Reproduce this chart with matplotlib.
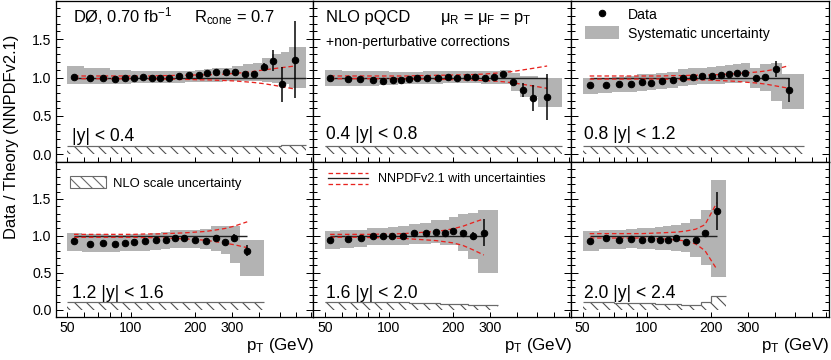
import matplotlib
matplotlib.use('Agg')
import matplotlib.pyplot as plt
from matplotlib.lines import Line2D
from matplotlib.patches import Patch
from matplotlib.legend_handler import HandlerBase
from matplotlib.ticker import FixedLocator, NullFormatter, FixedFormatter
import numpy as np

plt.rcParams['font.family'] = ['Liberation Sans', 'DejaVu Sans']
plt.rcParams['mathtext.fontset'] = 'custom'
plt.rcParams['mathtext.rm'] = 'Liberation Sans'
plt.rcParams['mathtext.it'] = 'Liberation Sans:italic'
plt.rcParams['hatch.color'] = '#505050'
plt.rcParams['hatch.linewidth'] = 1.1

# ---------------- data ----------------
rap_labels = ['|y| < 0.4', '0.4 |y| < 0.8', '0.8 |y| < 1.2',
              '1.2 |y| < 1.6', '1.6 |y| < 2.0', '2.0 |y| < 2.4']

# |y| < 0.4
p1_edges = [50, 60, 70, 80, 90, 100, 110, 120, 130, 145, 160, 180, 200, 220, 240, 270, 300, 335, 375, 415, 460, 505, 555, 665]
p1_pt = [54, 64, 74, 84, 94, 103, 114, 125, 137, 151, 169, 188, 209, 228, 251, 280, 310, 343, 379, 422, 467, 515, 590]
p1_val = [1.01, 1.0, 1.0, 0.985, 0.99, 0.995, 1.01, 1.0, 1.0, 1.0, 1.02, 1.03, 1.035, 1.065, 1.07, 1.07, 1.075, 1.04, 1.045, 1.14, 1.22, 0.91, 1.23]
p1_err = [0.004, 0.004, 0.004, 0.004, 0.004, 0.004, 0.004, 0.004, 0.005, 0.005, 0.005, 0.006, 0.007, 0.008, 0.01, 0.012, 0.015, 0.02, 0.025, 0.05, 0.14, 0.23, 0.5]
p1_sys_lo = [0.92, 0.91, 0.91, 0.92, 0.92, 0.93, 0.93, 0.93, 0.93, 0.93, 0.93, 0.94, 0.94, 0.94, 0.94, 0.95, 0.95, 0.95, 0.95, 0.94, 0.93, 0.92, 0.87]
p1_sys_hi = [1.15, 1.12, 1.12, 1.10, 1.10, 1.09, 1.09, 1.08, 1.08, 1.08, 1.09, 1.09, 1.10, 1.11, 1.12, 1.13, 1.15, 1.17, 1.19, 1.25, 1.30, 1.33, 1.40]
p1_pdf_up = [1.02, 1.02, 1.02, 1.02, 1.02, 1.02, 1.02, 1.02, 1.025, 1.025, 1.03, 1.03, 1.035, 1.035, 1.04, 1.045, 1.055, 1.065, 1.08, 1.10, 1.115, 1.13, 1.15]
p1_pdf_dn = [0.985, 0.985, 0.985, 0.985, 0.985, 0.985, 0.98, 0.98, 0.98, 0.98, 0.975, 0.975, 0.97, 0.97, 0.965, 0.96, 0.955, 0.945, 0.935, 0.92, 0.90, 0.88, 0.85]
p1_scale = [0.105, 0.105, 0.105, 0.105, 0.105, 0.105, 0.105, 0.105, 0.105, 0.105, 0.105, 0.105, 0.105, 0.105, 0.106, 0.106, 0.107, 0.108, 0.11, 0.112, 0.115, 0.118, 0.122]

# 0.4 < |y| < 0.8
p2_edges = [50, 60, 70, 80, 90, 100, 110, 120, 130, 145, 160, 180, 200, 220, 240, 270, 300, 335, 375, 415, 460, 505, 655]
p2_pt = [53, 64, 73, 84, 94, 105, 114, 124, 136, 152, 170, 190, 210, 232, 255, 282, 312, 346, 385, 429, 477, 555]
p2_val = [0.99, 0.983, 0.983, 0.974, 0.96, 0.974, 0.974, 0.978, 0.99, 0.996, 1.0, 1.004, 1.0, 1.004, 1.01, 0.996, 1.004, 1.04, 0.943, 0.84, 0.735, 0.743]
p2_err = [0.004, 0.004, 0.004, 0.004, 0.004, 0.004, 0.004, 0.004, 0.005, 0.005, 0.005, 0.006, 0.007, 0.008, 0.01, 0.012, 0.015, 0.02, 0.04, 0.09, 0.165, 0.3]
p2_sys_lo = [0.89, 0.89, 0.89, 0.89, 0.90, 0.90, 0.91, 0.91, 0.91, 0.92, 0.92, 0.93, 0.93, 0.93, 0.93, 0.92, 0.92, 0.92, 0.82, 0.75, 0.75, 0.62]
p2_sys_hi = [1.10, 1.09, 1.09, 1.08, 1.08, 1.07, 1.07, 1.07, 1.07, 1.08, 1.08, 1.08, 1.08, 1.09, 1.09, 1.09, 1.09, 1.10, 1.06, 1.02, 1.02, 0.99]
p2_pdf_up = [1.02, 1.02, 1.02, 1.02, 1.02, 1.02, 1.02, 1.02, 1.025, 1.025, 1.03, 1.03, 1.035, 1.035, 1.04, 1.045, 1.055, 1.065, 1.08, 1.10, 1.12, 1.15]
p2_pdf_dn = [0.985, 0.985, 0.985, 0.985, 0.985, 0.985, 0.98, 0.98, 0.98, 0.98, 0.975, 0.975, 0.97, 0.97, 0.965, 0.96, 0.955, 0.945, 0.93, 0.91, 0.89, 0.86]
p2_scale = [0.105, 0.105, 0.105, 0.105, 0.105, 0.105, 0.105, 0.105, 0.105, 0.105, 0.105, 0.105, 0.105, 0.105, 0.105, 0.105, 0.105, 0.105, 0.105, 0.105, 0.105, 0.105]

# 0.8 < |y| < 1.2
p3_edges = [50, 59, 69, 79, 90, 100, 111, 125, 141, 157, 173, 192, 213, 234, 255, 278, 307, 343, 383, 435, 550]
p3_pt = [54, 64.5, 74.5, 84.5, 95, 105, 118, 133, 149, 165, 182, 203, 224, 245, 266, 290, 325, 362, 406, 467]
p3_val = [0.9, 0.9, 0.913, 0.913, 0.939, 0.935, 0.957, 0.965, 1.0, 1.009, 1.022, 1.026, 1.035, 1.048, 1.057, 1.065, 0.996, 1.004, 1.113, 0.84]
p3_err = [0.004, 0.004, 0.004, 0.004, 0.004, 0.004, 0.004, 0.005, 0.005, 0.005, 0.006, 0.007, 0.008, 0.01, 0.012, 0.015, 0.02, 0.03, 0.1, 0.16]
p3_sys_lo = [0.79, 0.80, 0.81, 0.81, 0.83, 0.84, 0.85, 0.86, 0.89, 0.90, 0.91, 0.91, 0.92, 0.93, 0.93, 0.94, 0.87, 0.82, 0.69, 0.59]
p3_sys_hi = [1.00, 1.00, 1.01, 1.02, 1.04, 1.04, 1.06, 1.07, 1.11, 1.12, 1.13, 1.14, 1.15, 1.16, 1.18, 1.19, 1.12, 1.17, 1.19, 1.05]
p3_pdf_up = [1.02, 1.02, 1.02, 1.02, 1.02, 1.02, 1.02, 1.025, 1.025, 1.03, 1.03, 1.035, 1.04, 1.045, 1.05, 1.06, 1.07, 1.085, 1.11, 1.155]
p3_pdf_dn = [0.98, 0.98, 0.98, 0.98, 0.98, 0.98, 0.98, 0.975, 0.975, 0.97, 0.97, 0.965, 0.96, 0.955, 0.95, 0.94, 0.93, 0.915, 0.89, 0.86]
p3_scale = [0.105, 0.105, 0.105, 0.105, 0.105, 0.105, 0.105, 0.105, 0.105, 0.105, 0.105, 0.105, 0.105, 0.105, 0.105, 0.105, 0.105, 0.105, 0.105, 0.105]

# 1.2 < |y| < 1.6
p4_edges = [50, 59, 69, 79, 89, 99, 109, 123, 138, 153, 169, 189, 212, 238, 264, 291, 325, 420]
p4_pt = [54, 64, 74, 84, 94, 103, 116, 131, 146, 161, 178, 200, 225, 251, 277, 305, 352]
p4_val = [0.928, 0.887, 0.905, 0.887, 0.901, 0.91, 0.928, 0.937, 0.946, 0.973, 0.964, 0.95, 0.932, 0.973, 0.914, 0.973, 0.80]
p4_err = [0.004, 0.004, 0.004, 0.004, 0.004, 0.004, 0.005, 0.005, 0.006, 0.007, 0.008, 0.01, 0.012, 0.015, 0.02, 0.05, 0.08]
p4_sys_lo = [0.79, 0.78, 0.78, 0.78, 0.79, 0.79, 0.80, 0.81, 0.82, 0.84, 0.84, 0.83, 0.82, 0.80, 0.76, 0.63, 0.45]
p4_sys_hi = [1.04, 1.02, 1.02, 1.01, 1.01, 1.02, 1.03, 1.04, 1.05, 1.08, 1.08, 1.08, 1.09, 1.13, 1.13, 1.13, 0.95]
p4_pdf_up = [1.02, 1.02, 1.02, 1.02, 1.02, 1.02, 1.025, 1.025, 1.03, 1.035, 1.04, 1.05, 1.06, 1.08, 1.10, 1.13, 1.19]
p4_pdf_dn = [0.98, 0.98, 0.98, 0.98, 0.98, 0.98, 0.975, 0.975, 0.97, 0.965, 0.96, 0.95, 0.94, 0.92, 0.90, 0.88, 0.84]
p4_scale = [0.098, 0.098, 0.098, 0.098, 0.098, 0.098, 0.098, 0.098, 0.098, 0.098, 0.098, 0.098, 0.098, 0.098, 0.098, 0.098, 0.098]

# 1.6 < |y| < 2.0
p5_edges = [50, 59, 69, 79, 89, 99, 110, 124, 140, 158, 175, 191, 211, 236, 264, 326]
p5_pt = [53, 64, 74, 84, 94, 104, 117, 132, 149, 167, 183, 200, 223, 249, 280]
p5_val = [0.937, 0.955, 0.964, 0.995, 0.991, 0.995, 1.0, 1.032, 1.032, 1.054, 1.036, 1.059, 1.032, 1.0, 1.045]
p5_err = [0.004, 0.004, 0.004, 0.004, 0.005, 0.005, 0.006, 0.007, 0.008, 0.01, 0.012, 0.015, 0.02, 0.05, 0.18]
p5_sys_lo = [0.82, 0.83, 0.85, 0.87, 0.87, 0.87, 0.88, 0.89, 0.89, 0.90, 0.88, 0.87, 0.80, 0.69, 0.49]
p5_sys_hi = [1.07, 1.08, 1.08, 1.11, 1.11, 1.12, 1.13, 1.16, 1.18, 1.21, 1.22, 1.26, 1.30, 1.31, 1.35]
p5_pdf_up = [1.02, 1.02, 1.02, 1.02, 1.025, 1.025, 1.03, 1.04, 1.05, 1.06, 1.075, 1.095, 1.13, 1.18, 1.23]
p5_pdf_dn = [0.98, 0.98, 0.98, 0.975, 0.975, 0.97, 0.965, 0.955, 0.945, 0.935, 0.92, 0.905, 0.87, 0.81, 0.74]
p5_scale = [0.11, 0.108, 0.106, 0.104, 0.102, 0.10, 0.097, 0.094, 0.09, 0.085, 0.08, 0.075, 0.07, 0.064, 0.058]

# 2.0 < |y| < 2.4
p6_edges = [50, 60, 70, 80, 90, 100, 110, 120, 130, 145, 160, 180, 200, 235]
p6_pt = [54, 64.5, 74.5, 84.5, 95, 105, 116, 126, 138, 153, 170, 188, 214]
p6_val = [0.932, 0.964, 0.937, 0.955, 0.937, 0.96, 0.937, 0.946, 0.964, 0.914, 0.941, 1.032, 1.338]
p6_err = [0.004, 0.004, 0.004, 0.005, 0.005, 0.006, 0.007, 0.008, 0.01, 0.012, 0.015, 0.04, 0.26]
p6_sys_lo = [0.80, 0.82, 0.82, 0.83, 0.82, 0.82, 0.81, 0.81, 0.80, 0.78, 0.71, 0.60, 0.44]
p6_sys_hi = [1.07, 1.08, 1.08, 1.09, 1.10, 1.11, 1.12, 1.13, 1.15, 1.17, 1.23, 1.35, 1.75]
p6_pdf_up = [1.03, 1.03, 1.03, 1.03, 1.03, 1.035, 1.04, 1.045, 1.05, 1.065, 1.09, 1.15, 1.45]
p6_pdf_dn = [0.97, 0.97, 0.97, 0.97, 0.97, 0.965, 0.96, 0.955, 0.945, 0.93, 0.89, 0.80, 0.545]
p6_scale = [0.10, 0.098, 0.095, 0.092, 0.089, 0.085, 0.08, 0.075, 0.07, 0.065, 0.058, 0.10, 0.19]

x_major = [50, 100, 200, 300, 400, 500, 600, 700]
x_major_labels = ['50', '100', '200', '300', '', '', '', '']
x_minor = [60, 70, 80, 90]
y_major = [0.0, 0.5, 1.0, 1.5]
y_minor = [0.1, 0.2, 0.3, 0.4, 0.6, 0.7, 0.8, 0.9, 1.1, 1.2, 1.3, 1.4, 1.6, 1.7, 1.8, 1.9]

panels = [
    (p1_edges, p1_pt, p1_val, p1_err, p1_sys_lo, p1_sys_hi, p1_pdf_up, p1_pdf_dn, p1_scale),
    (p2_edges, p2_pt, p2_val, p2_err, p2_sys_lo, p2_sys_hi, p2_pdf_up, p2_pdf_dn, p2_scale),
    (p3_edges, p3_pt, p3_val, p3_err, p3_sys_lo, p3_sys_hi, p3_pdf_up, p3_pdf_dn, p3_scale),
    (p4_edges, p4_pt, p4_val, p4_err, p4_sys_lo, p4_sys_hi, p4_pdf_up, p4_pdf_dn, p4_scale),
    (p5_edges, p5_pt, p5_val, p5_err, p5_sys_lo, p5_sys_hi, p5_pdf_up, p5_pdf_dn, p5_scale),
    (p6_edges, p6_pt, p6_val, p6_err, p6_sys_lo, p6_sys_hi, p6_pdf_up, p6_pdf_dn, p6_scale),
]

# ---------------- style ----------------
BAND = '#b3b3b3'
HATCH = '#505050'
RED = '#e8231f'
DASH = (3.5, 2.2)

W, H = 831, 360
DPI = 72
fig = plt.figure(figsize=(W / DPI, H / DPI), dpi=DPI)
gs = fig.add_gridspec(2, 3, left=55.5 / W, right=829 / W, top=1 - 0.7 / H, bottom=1 - 317 / H,
                      hspace=0, wspace=0, height_ratios=[161.7, 155.3])

axes = []
for i, (edges, pt, val, err, slo, shi, pup, pdn, scale) in enumerate(panels):
    r, c = divmod(i, 3)
    ax = fig.add_subplot(gs[r, c])
    axes.append(ax)
    ax.set_xscale('log')
    edges = np.asarray(edges, float)
    slo = np.asarray(slo); shi = np.asarray(shi)
    # systematic band
    ax.bar(edges[:-1], shi - slo, bottom=slo, width=np.diff(edges), align='edge',
           color=BAND, linewidth=0, zorder=1)
    # NLO scale uncertainty (hatched)
    ax.stairs(scale, edges, baseline=0, fill=True, facecolor='none', edgecolor=HATCH,
              hatch='\\\\', linewidth=0, zorder=2)
    ax.stairs(scale, edges, baseline=None, color='#6a6a6a', linewidth=1.2, zorder=2)
    # theory reference and PDF uncertainty
    line_end = edges[-1] if i == 0 else pt[-1]
    ax.hlines(1.0, pt[0], line_end, color='#202020', linewidth=1.4, zorder=3)
    ax.plot(pt, pup, color=RED, linewidth=1.3, dashes=DASH, zorder=4)
    ax.plot(pt, pdn, color=RED, linewidth=1.3, dashes=DASH, zorder=4)
    # data
    ax.errorbar(pt, val, yerr=err, fmt='o', color='black', markersize=6.5,
                elinewidth=1.5, capsize=0, zorder=5)

    ax.set_xlim(44.2, 720)
    ax.set_ylim(-0.1, 2.0)
    ax.xaxis.set_major_locator(FixedLocator(x_major))
    ax.xaxis.set_major_formatter(FixedFormatter(x_major_labels))
    ax.xaxis.set_minor_locator(FixedLocator(x_minor))
    ax.xaxis.set_minor_formatter(NullFormatter())
    ax.yaxis.set_major_locator(FixedLocator(y_major))
    ax.yaxis.set_minor_locator(FixedLocator(y_minor))
    ax.yaxis.set_major_formatter(FixedFormatter(['0.0', '0.5', '1.0', '1.5']))
    ax.tick_params(which='both', direction='in', top=False, right=True, left=True,
                   labelsize=14, width=1.0, color='black')
    ax.tick_params(axis='y', which='major', length=7, pad=4)
    ax.tick_params(axis='y', which='minor', length=4)
    ax.tick_params(axis='x', which='major', length=5, pad=4)
    ax.tick_params(axis='x', which='minor', length=5)
    if c != 0:
        ax.tick_params(labelleft=False)
    if r == 0:
        ax.tick_params(labelbottom=False)
    for sp in ax.spines.values():
        sp.set_linewidth(1.3)
    ytxt = 0.17 if i == 0 else (0.195 if i < 3 else 0.164)
    ax.text(16.5 / 257 if i in (0, 3) else 13 / 258, ytxt, rap_labels[i], transform=ax.get_yaxis_transform(),
            fontsize=17.5, ha='left', va='baseline', zorder=6)
    if r == 1:
        ax.text(1.003, -0.2125, r'p$_\mathregular{T}$ (GeV)', transform=ax.transAxes,
                fontsize=17, ha='right', va='baseline')

# header texts
a1, a2, a3, a4, a5, a6 = axes
a1.text(17.5 / 257, 0.866, r'DØ, 0.70 fb$^\mathregular{-1}$', transform=a1.transAxes,
        fontsize=16.5, ha='left', va='baseline')
a1.text(138 / 257, 0.866, r'R$_\mathregular{cone}$ = 0.7', transform=a1.transAxes,
        fontsize=16.5, ha='left', va='baseline')
a2.text(13 / 258, 0.866, 'NLO pQCD', transform=a2.transAxes, fontsize=16.5,
        ha='left', va='baseline')
a2.text(127 / 258, 0.866, r'μ$_\mathregular{R}$ = μ$_\mathregular{F}$ = p$_\mathregular{T}$',
        transform=a2.transAxes, fontsize=16.5, ha='left', va='baseline')
a2.text(13 / 258, 0.717, '+non-perturbative corrections', transform=a2.transAxes,
        fontsize=14, ha='left', va='baseline')

# legends
a3.legend([Line2D([], [], marker='o', ls='none', color='black', markersize=6.5),
           Patch(facecolor=BAND, edgecolor='none')],
          ['Data', 'Systematic uncertainty'], loc='upper left',
          bbox_to_anchor=(14 / 259, 1 - 7 / 161.7), frameon=False, borderpad=0,
          borderaxespad=0, fontsize=14, handlelength=2.43, handleheight=1.07,
          handletextpad=0.64, labelspacing=0.3)

a4.legend([Patch(facecolor='none', edgecolor='#6a6a6a', hatch='\\\\', linewidth=1.1)],
          ['NLO scale uncertainty'], loc='upper left',
          bbox_to_anchor=(14.5 / 257, 1 - 14.3 / 155.3), frameon=False, borderpad=0,
          borderaxespad=0, fontsize=13, handlelength=2.77, handleheight=1.0,
          handletextpad=0.54)


class TripleLineHandler(HandlerBase):
    def create_artists(self, legend, orig_handle, xdescent, ydescent, width, height,
                       fontsize, trans):
        x0 = -xdescent
        x1 = x0 + width
        y0 = -ydescent
        arts = []
        for frac, col, dashed in ((1.0, RED, True), (0.5, '#202020', False), (0.0, RED, True)):
            ln = Line2D([x0, x1], [y0 + frac * height] * 2, color=col, linewidth=1.3)
            if dashed:
                ln.set_dashes(DASH)
            ln.set_transform(trans)
            arts.append(ln)
        return arts


class _Triple:
    pass


a5.legend([_Triple()], ['NNPDFv2.1 with uncertainties'], loc='upper left',
          handler_map={_Triple: TripleLineHandler()},
          bbox_to_anchor=(15 / 258, 1 - 10.5 / 155.3), frameon=False, borderpad=0,
          borderaxespad=0, fontsize=12.5, handlelength=3.2, handleheight=1.0,
          handletextpad=0.8)

fig.text(12 / W, 1 - 137 / H, 'Data / Theory (NNPDFv2.1)', rotation=90, fontsize=16.5,
         ha='center', va='center')

fig.savefig('out.png', dpi=DPI)
